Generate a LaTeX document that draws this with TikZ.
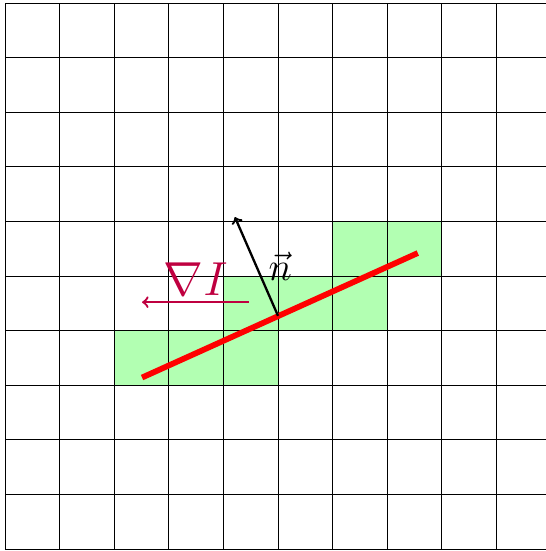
\documentclass[tikz,border=0pt]{standalone}
\usepackage{amsmath}
\usepackage{tikz}
\usetikzlibrary{calc}

\tikzset{
    pixel/.style={fill=green!30, draw=none},
    edgeline/.style={red, line width=3pt},
    gradarrow/.style={purple, very thick, ->}
}

\begin{document}
\begin{tikzpicture}[x=1cm,y=1cm]

\useasboundingbox (-0.092,-0.037) rectangle (9.908,10.055);

% Edge pixels
\fill[pixel] (2,3) rectangle (5,4);
\fill[pixel] (4,4) rectangle (7,5);
\fill[pixel] (6,5) rectangle (8,6);

% Pixel grid
\draw (0,0) grid (9.908,10);

% Edge
\coordinate (e0) at (2.51,3.14);
\coordinate (e1) at (7.56,5.42);
\draw[edgeline] (e0) -- (e1);

% Normal
\coordinate (foot) at (5.0,4.27);
\coordinate (tip) at (4.21,6.08);
\draw[very thick,->] (foot) -- (tip);
\node (n) at (5.04,5.17) {\huge$\vec{n}$};

% Gradient
\coordinate (g0) at (4.47,4.52);
\coordinate (g1) at (2.51,4.52);
\draw[gradarrow] (g0) -- (g1);
\node[purple, above] (grad) at ($(g0)!0.5!(g1)$) {\Huge$\nabla I$};

\end{tikzpicture}
\end{document}
